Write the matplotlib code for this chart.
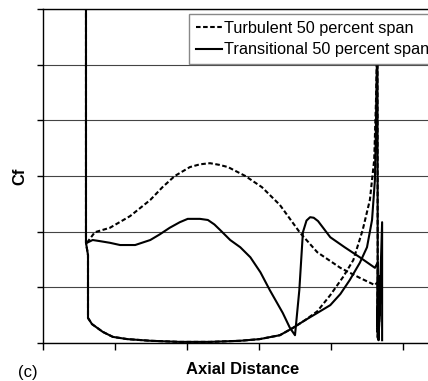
import matplotlib.pyplot as plt

plt.rcParams['font.family'] = ['Liberation Sans', 'DejaVu Sans']

# values (axial distance in tick units, Cf in grid units)
turb_ss_x = [0.61, 0.72, 0.93, 1.21, 1.49, 1.66, 1.83, 2.04, 2.18, 2.32, 2.45, 2.57,
             2.81, 3.04, 3.29, 3.57, 3.81, 4.13, 4.40, 4.61, 4.65, 4.64, 4.68, 4.66]
turb_ss_y = [1.80, 1.99, 2.07, 2.28, 2.57, 2.80, 3.00, 3.16, 3.21, 3.23, 3.20, 3.16,
             3.00, 2.80, 2.48, 1.98, 1.63, 1.35, 1.17, 1.04, 1.10, 0.20, 0.80, 0.05]

trans_ss_x = [0.61, 0.69, 0.79, 0.93, 1.07, 1.28, 1.49, 1.62, 1.76, 1.90, 2.01, 2.18,
              2.29, 2.38, 2.46, 2.60, 2.74, 2.88, 3.02, 3.15, 3.33, 3.43, 3.50, 3.56,
              3.61, 3.66, 3.71, 3.76, 3.82, 3.99, 4.19, 4.40, 4.61, 4.65, 4.64, 4.67,
              4.65, 4.69, 4.66, 4.71, 4.71]
trans_ss_y = [1.80, 1.85, 1.83, 1.80, 1.76, 1.76, 1.85, 1.95, 2.07, 2.17, 2.23, 2.23,
              2.21, 2.13, 2.03, 1.85, 1.72, 1.54, 1.27, 0.95, 0.54, 0.27, 0.14, 0.95,
              1.99, 2.20, 2.26, 2.25, 2.19, 1.90, 1.72, 1.54, 1.35, 1.45, 0.30, 1.20,
              0.10, 1.00, 0.05, 2.17, 0.05]

turb_ps_x = [0.597, 0.597, 0.625, 0.625, 0.68, 0.83, 0.97, 1.17, 1.49, 1.90, 2.32, 2.74,
             3.01, 3.29, 3.47, 3.64, 3.81, 3.99, 4.17, 4.31, 4.44, 4.54, 4.60, 4.625,
             4.64, 4.645, 4.65]
turb_ps_y = [6.50, 1.80, 1.58, 0.45, 0.34, 0.20, 0.11, 0.07, 0.04, 0.02, 0.02, 0.04,
             0.07, 0.14, 0.27, 0.41, 0.57, 0.86, 1.19, 1.49, 2.03, 2.57, 3.29, 4.36,
             5.30, 5.30, 0.10]

trans_ps_x = [0.597, 0.597, 0.625, 0.625, 0.68, 0.83, 0.97, 1.17, 1.49, 1.90, 2.32, 2.74,
              3.01, 3.29, 3.47, 3.64, 3.81, 3.99, 4.13, 4.26, 4.40, 4.50, 4.57, 4.61,
              4.625, 4.64, 4.645, 4.65]
trans_ps_y = [6.50, 1.80, 1.58, 0.45, 0.34, 0.20, 0.11, 0.07, 0.04, 0.02, 0.02, 0.04,
              0.07, 0.14, 0.27, 0.41, 0.54, 0.68, 0.88, 1.13, 1.44, 1.72, 2.21, 2.93,
              4.00, 5.30, 5.30, 0.10]

fig = plt.figure(figsize=(4.28, 3.81), dpi=100)
ax = fig.add_axes([43 / 428, 1 - 343 / 381, 1 - 43 / 428, 334 / 381])

lw = 1.5
l1, = ax.plot(turb_ss_x, turb_ss_y, color='black', lw=lw, ls=(0, (2.2, 1.2)))
ax.plot(turb_ps_x, turb_ps_y, color='black', lw=lw, ls=(0, (2.2, 1.2)))
l2, = ax.plot(trans_ss_x, trans_ss_y, color='black', lw=lw)
ax.plot(trans_ps_x, trans_ps_y, color='black', lw=lw)

ax.set_xlim(0, 385 / 72)
ax.set_ylim(0, 6)
ax.set_xticks(range(6))
ax.set_yticks(range(7))
ax.set_xticklabels([])
ax.set_yticklabels([])
ax.tick_params(axis='x', direction='out', length=5, width=1)
ax.tick_params(axis='y', direction='out', length=4, width=1)
ax.yaxis.grid(True, color='#444444', lw=0.8)
ax.set_axisbelow(True)
ax.spines['right'].set_visible(False)
for s in ['left', 'bottom', 'top']:
    ax.spines[s].set_linewidth(1.0)

leg = fig.legend([l1, l2], ['Turbulent 50 percent span', 'Transitional 50 percent span'],
                 loc='upper left', bbox_to_anchor=(189 / 428, 1 - 14 / 381),
                 fontsize=11.7, frameon=True, fancybox=False, framealpha=1,
                 edgecolor='#888888', handlelength=1.6, handletextpad=0.15,
                 borderpad=0.4, labelspacing=0.42, borderaxespad=0)
leg.get_frame().set_linewidth(1.0)

fig.text(20 / 428, 1 - 176 / 381, 'Cf', rotation=90, fontsize=12, fontweight='bold',
         ha='center', va='center')
fig.text(243 / 428, 1 - 370 / 381, 'Axial Distance', fontsize=12, fontweight='bold',
         ha='center', va='center')
fig.text(28 / 428, 1 - 372 / 381, '(c)', fontsize=12, ha='center', va='center')

fig.savefig('out.png', dpi=100)
